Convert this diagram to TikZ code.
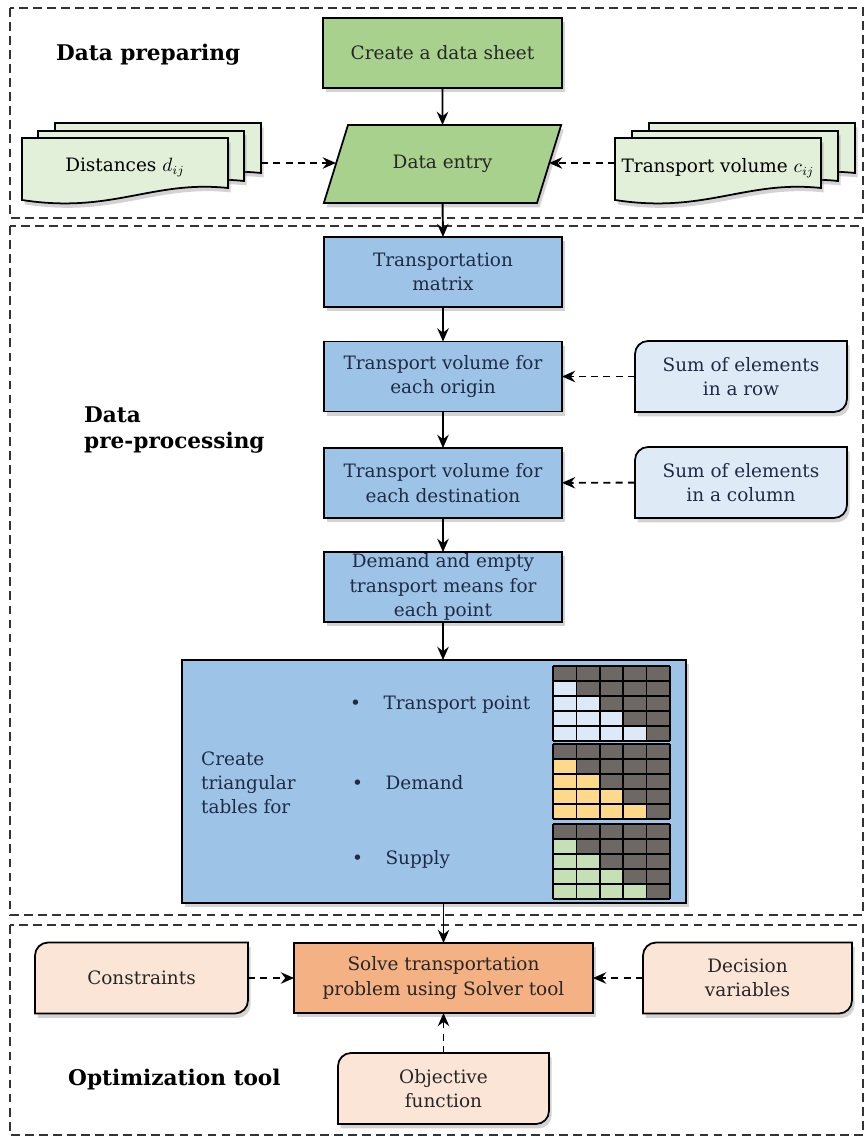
\documentclass[tikz,border=0pt]{standalone}
\usepackage{fontspec}
\setmainfont{DejaVu Serif}
\usetikzlibrary{arrows.meta,shapes.geometric,shadows,backgrounds}

\definecolor{greenbox}{HTML}{A9D18E}
\definecolor{greendoc}{HTML}{E2F0D9}
\definecolor{bluebox}{HTML}{9DC3E6}
\definecolor{bluelt}{HTML}{DEEBF7}
\definecolor{orangebox}{HTML}{F4B183}
\definecolor{orangelt}{HTML}{FBE5D6}
\definecolor{navy}{HTML}{1F2B45}
\definecolor{celldark}{HTML}{6E6865}
\definecolor{cellblue}{HTML}{DCE9F6}
\definecolor{cellyellow}{HTML}{FFD98A}
\definecolor{cellgreen}{HTML}{C5E0B4}

% page of a document stack, top left corner and fill
\newcommand{\docpage}[2]{%
  \draw[line width=1pt, fill=#2, boxshadow, shift={#1}] (0,0) -- (206,0) -- (206,50)
    .. controls (130,42) and (90,76) .. (0,62) -- cycle;}
% box with two rounded corners around node #1
\newcommand{\tagshape}[2]{%
  \draw[line width=1pt, fill=#2, boxshadow] ([xshift=0.26cm]#1.north west) -- (#1.north east)
    -- ([yshift=0.26cm]#1.south east) arc[start angle=0, end angle=-90, radius=0.26cm]
    -- (#1.south west) -- ([yshift=-0.26cm]#1.north west) arc[start angle=180, end angle=90, radius=0.26cm] -- cycle;}

\begin{document}
\begin{tikzpicture}[x=0.02cm, y=-0.02cm, font=\fontsize{10.5pt}{13.8pt}\selectfont,
  boxshadow/.style={drop shadow={opacity=0.35, shadow xshift=1.5pt, shadow yshift=-2.5pt}},
  section/.style={dash pattern=on 5pt off 3pt, line width=1pt, draw=black!80},
  heading/.style={font=\fontsize{12.3pt}{15pt}\selectfont\bfseries, anchor=west, align=left},
  block/.style={draw, line width=1pt, minimum width=#1, minimum height=1.4cm, inner sep=1pt, outer sep=0pt, align=center, boxshadow},
  tag/.style={draw=none, minimum width=#1, minimum height=1.42cm, inner sep=1pt, outer sep=0pt, align=center},
  flow/.style={-{Stealth[length=7.5pt, width=6.5pt, inset=2.5pt]}, line width=1.1pt},
  dflow/.style={flow, dash pattern=on 4pt off 3pt}]
\useasboundingbox (0,0) rectangle (866,1138);
%%%%%%%%%%%%%%%%%%%%%%%%%%%%%%%%%%%%%%%%%%% HELP LINES
%\draw[help lines] (0,0) grid (866,1138);

%%%%%%%%%%%%%%%%%%%%%%%%%%%%%%%%%%%%%%%%%%% sections
\draw[section] (10,8) rectangle (863,218);
\draw[section] (10,226) rectangle (863,915);
\draw[section] (10,925) rectangle (863,1135);

%%%%% data preparing
\node[heading](prep) at (50,55){Data preparing};
\node[block=4.78cm, fill=greenbox, text=black!85](sheet) at (442.5,53){Create a data sheet};
\node[trapezium, trapezium left angle=58, trapezium right angle=122, trapezium stretches=true, draw, line width=1pt,
  fill=greenbox, text=black!85, minimum width=4.78cm, minimum height=1.56cm, inner sep=1pt, outer sep=0pt, boxshadow](entry) at (442.5,164){Data entry};
\docpage{(55,123)}{greendoc}
\docpage{(38,131)}{greendoc}
\docpage{(22,138)}{greendoc}
\node[draw=none](dist) at (125,167){Distances $d_{ij}$};
\coordinate (distout) at (261,163);
\docpage{(649,123)}{greendoc}
\docpage{(632,131)}{greendoc}
\docpage{(615,138)}{greendoc}
\node[draw=none](vol) at (718,168){Transport volume $c_{ij}$};
\coordinate (volout) at (615,163);

%%%%% data pre-processing
\node[heading](pre) at (78,430){Data\\pre-processing};
\node[block=4.76cm, fill=bluebox, text=navy](matrix) at (443,272){Transportation\\matrix};
\node[block=4.76cm, fill=bluebox, text=navy](origin) at (443,376.5){Transport volume for\\each origin};
\node[block=4.76cm, fill=bluebox, text=navy](dest) at (443,483){Transport volume for\\each destination};
\node[block=4.76cm, fill=bluebox, text=navy, inner ysep=0pt](demand) at (443,587){Demand and empty\\transport means for\\each point};
\node[tag=4.24cm, text=navy](rowsum) at (741,376.5){Sum of elements\\in a row};
\node[tag=4.24cm, text=navy](colsum) at (741,482.5){Sum of elements\\in a column};
\node[block=10.08cm, minimum height=4.86cm, fill=bluebox](tables) at (434,781.5){};
\node[anchor=west, align=left, text=navy](create) at (195,783){Create\\triangular\\tables for};
\node[anchor=west, text=navy](tpoint) at (344,705){\textbullet\hspace{0.45cm}Transport point};
\node[anchor=west, text=navy](dem) at (346,783){\textbullet\hspace{0.45cm}Demand};
\node[anchor=west, text=navy](sup) at (346,860){\textbullet\hspace{0.45cm}Supply};

%%%%% triangular tables
\foreach \gy/\gc in {666/cellblue, 744/cellyellow, 824/cellgreen}{
  \fill[celldark] (553,\gy) rectangle ++(117,75);
  \foreach \r in {1,...,4}
    \foreach \q in {1,...,\r}
      \fill[\gc] (553+23.4*\q-23.4,\gy+15*\r) rectangle ++(23.4,15);
  \foreach \i in {0,...,5}{
    \draw[line width=1pt] (553+23.4*\i,\gy) -- ++(0,75);
    \draw[line width=1pt] (553,\gy+15*\i) -- ++(117,0);
  }
}

%%%%% optimization tool
\node[heading](opt) at (62,1080){Optimization tool};
\node[block=5.98cm, fill=orangebox, text=black!85](solve) at (443.5,978){Solve transportation\\problem using Solver tool};
\node[tag=4.26cm, text=black!85](cons) at (141.5,978){Constraints};
\node[tag=4.18cm, text=black!85](dec) at (747.5,978){Decision\\variables};
\node[tag=4.22cm, text=black!85](obj) at (443.5,1088.5){Objective\\function};

\begin{pgfonlayer}{background}
\tagshape{rowsum}{bluelt}
\tagshape{colsum}{bluelt}
\tagshape{cons}{orangelt}
\tagshape{dec}{orangelt}
\tagshape{obj}{orangelt}
\end{pgfonlayer}

%%%%% edges
\draw[flow] (sheet) -- (entry);
\draw[dflow] (distout) -- (distout -| entry.west);
\draw[dflow] (volout) -- (volout -| entry.east);
\draw[flow] (entry.south) -- (matrix.north);
\draw[flow] (matrix) -- (origin);
\draw[flow] (origin) -- (dest);
\draw[flow] (dest) -- (demand);
\draw[dflow] (rowsum) -- (origin);
\draw[dflow] (colsum) -- (dest);
\draw[flow] (demand.south) -- (demand.south |- tables.north);
\draw[flow] (solve.north |- tables.south) -- (solve.north);
\draw[dflow] (cons) -- (solve);
\draw[dflow] (dec) -- (solve);
\draw[dflow] (obj) -- (solve);
\end{tikzpicture}
\end{document}
